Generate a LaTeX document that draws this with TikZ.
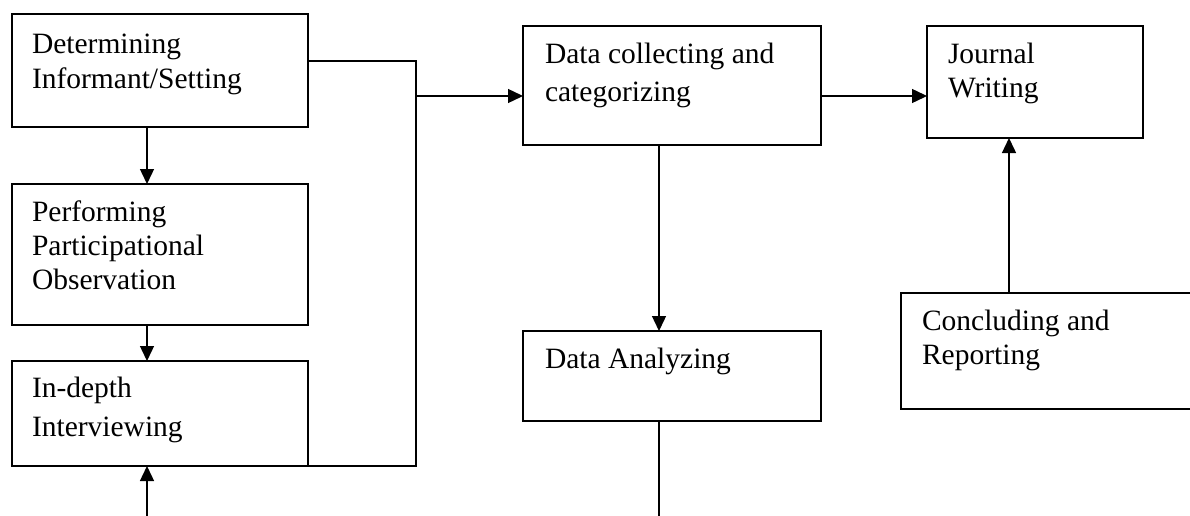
\documentclass[tikz,border=0pt]{standalone}
\usepackage{fontspec}
\setmainfont{Liberation Serif}
\usetikzlibrary{arrows.meta}
\newcommand{\fs}[1]{\fontsize{29.5}{#1}\selectfont}
\newcommand{\firstrule}{\rule{0pt}{21pt}}
\begin{document}
\begin{tikzpicture}[x=1pt,y=-1pt,
  box/.style={draw, line width=1.5pt, inner sep=0pt, outer sep=0pt, anchor=north west},
  txt/.style={anchor=north west, inner sep=0pt, outer sep=0pt, align=left},
  arr/.style={line width=1.4pt, -{Triangle[length=15pt,width=14pt]}},
  ln/.style={line width=1.4pt}]
\useasboundingbox (0,0) rectangle (1190,516);
\clip (0,0) rectangle (1190,516);
% boxes
\node[box, minimum width=296pt, minimum height=113pt] (b1) at (12,14) {};
\node[box, minimum width=296pt, minimum height=141pt] (b2) at (12,184) {};
\node[box, minimum width=296pt, minimum height=105pt] (b3) at (12,361) {};
\node[box, minimum width=298pt, minimum height=119pt] (b4) at (523,26) {};
\node[box, minimum width=298pt, minimum height=90pt] (b5) at (523,331) {};
\node[box, minimum width=216pt, minimum height=112pt] (b6) at (927,26) {};
\node[box, minimum width=300pt, minimum height=116pt] (b7) at (901,293) {};
% texts
\node[txt, font=\fs{35}] (t1) at (32,32.3) {\firstrule Determining\\Informant/Setting};
\node[txt, font=\fs{34}] (t2) at (32,200.7) {\firstrule Performing\\Participational\\Observation};
\node[txt, font=\fs{39}] (t3) at (32,376.7) {\firstrule In-depth\\Interviewing};
\node[txt, font=\fs{37.7}] (t4) at (545,43) {\firstrule Data collecting and\\categorizing};
\node[txt, font=\fs{35}] (t5) at (545,347.3) {\firstrule Data Analyzing};
\node[txt, font=\fs{33.3}] (t6) at (948,43) {\firstrule Journal\\Writing};
\node[txt, font=\fs{34}] (t7) at (922,309) {\firstrule Concluding and\\Reporting};
% helper coordinates
\coordinate (cx1) at (147,0);
\coordinate (cx2) at (659,0);
\coordinate (cx3) at (1009,0);
\coordinate (j1) at (416,61);
\coordinate (j2) at (416,466);
\coordinate (j3) at (416,96);
\coordinate (bot1) at (147,516);
\coordinate (bot2) at (659,516);
% connectors
\draw[arr] (b1.south -| cx1) -- (b2.north -| cx1);
\draw[arr] (b2.south -| cx1) -- (b3.north -| cx1);
\draw[arr] (bot1) -- (b3.south -| cx1);
\draw[ln] (j1 -| b1.east) -- (j1) -- (j2) -- (j2 -| b3.east);
\draw[arr] (j3) -- (j3 -| b4.west);
\draw[arr] (j3 -| b4.east) -- (j3 -| b6.west);
\draw[arr] (b4.south -| cx2) -- (b5.north -| cx2);
\draw[ln] (b5.south -| cx2) -- (bot2);
\draw[arr] (b7.north -| cx3) -- (b6.south -| cx3);
\end{tikzpicture}
\end{document}
